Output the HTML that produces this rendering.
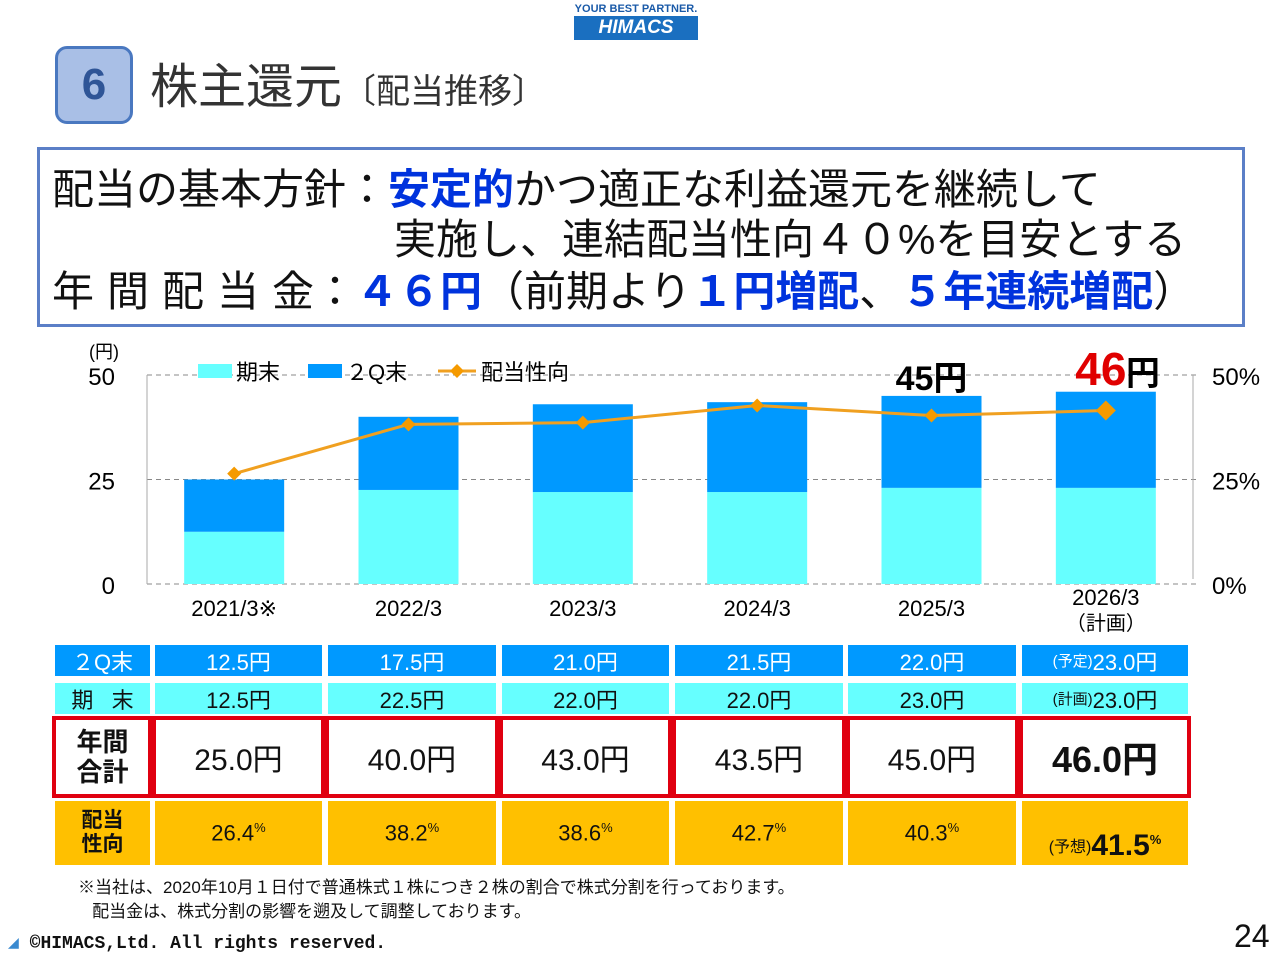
<!DOCTYPE html>
<html><head><meta charset="utf-8">
<style>
body{margin:0;width:1280px;height:960px;background:#fff;position:relative;overflow:hidden;font-family:"Liberation Sans","Noto Sans CJK JP",sans-serif;}
.abs{position:absolute;}
.n{font-family:"Liberation Sans Narrow","Liberation Sans","Noto Sans CJK JP",sans-serif;}
.line{position:absolute;left:52px;font-size:42px;line-height:48px;white-space:nowrap;color:#111;}
.b{color:#0033dd;font-weight:bold;}
.cell{position:absolute;display:flex;align-items:center;justify-content:center;font-size:22px;color:#111;}
</style></head><body>
<div class="abs" style="left:574px;top:2px;width:124px;text-align:center;">
 <div style="font-size:11px;color:#1a5aa8;font-weight:bold;line-height:14px;white-space:nowrap;">YOUR BEST PARTNER.</div>
 <div style="background:#1a6fc0;color:#fff;font-weight:bold;font-style:italic;font-size:19px;line-height:24px;">HIMACS</div>
</div>
<div class="abs" style="left:55px;top:46px;width:78px;height:78px;border:3px solid #4a78c0;border-radius:12px;background:#a9bfe6;box-sizing:border-box;font-size:44px;color:#2f5597;font-weight:bold;text-align:center;line-height:72px;">6</div>
<div class="abs" style="left:150px;top:58px;font-size:48px;color:#333;line-height:60px;">株主還元<span style="font-size:34px;">〔配当推移〕</span></div>

<div class="abs" style="left:37px;top:147px;width:1208px;height:180px;border:3px solid #5b7fc7;box-sizing:border-box;"></div>
<div class="line" style="top:166px;">配当の基本方針：<span class="b">安定的</span>かつ適正な利益還元を継続して</div>
<div class="line" style="top:216px;left:394px;">実施し、連結配当性向４０%を目安とする</div>
<div class="line" style="top:268px;"><span style="letter-spacing:13px;">年間配当</span>金：<span class="b">４６円</span>（前期より<span class="b">１円増配</span>、<span class="b">５年連続増配</span>）</div>

<svg id="chart" class="abs" style="left:0;top:0;" width="1280" height="960"></svg>

<div id="table"></div>

<div class="abs" style="left:78px;top:876px;font-size:17px;line-height:24px;color:#111;">※当社は、2020年10月１日付で普通株式１株につき２株の割合で株式分割を行っております。<br>&nbsp;&nbsp;&nbsp;配当金は、株式分割の影響を遡及して調整しております。</div>
<div class="abs" style="left:8px;top:932px;font-size:18px;font-family:'Liberation Mono',monospace;color:#111;font-weight:bold;"><span style="color:#3a8ad0;">◢</span> ©HIMACS,Ltd. All rights reserved.</div>
<div class="abs n" style="left:1234px;top:918px;font-size:32px;color:#111;">24</div>

<script>
const categories=["2021/3","2022/3","2023/3","2024/3","2025/3","2026/3"];
const q2Values=[12.5,17.5,21.0,21.5,22.0,23.0];
const endValues=[12.5,22.5,22.0,22.0,23.0,23.0];
const payoutRatio=[26.4,38.2,38.6,42.7,40.3,41.5];
const yTicks=[0,25,50];
const y2Ticks=["0%","25%","50%"];
const NS="http://www.w3.org/2000/svg";
const svg=document.getElementById('chart');
const x0=147,x1=1193,y0=584,yTop=375;
const yS=v=>y0-(v/50)*(y0-yTop);
const yP=v=>y0-(v/50)*(y0-yTop);
const step=(x1-x0)/categories.length;
const xC=i=>x0+step*(i+0.5);
function mk(t,a,txt){const e=document.createElementNS(NS,t);for(const k in a)e.setAttribute(k,a[k]);if(txt!==undefined)e.textContent=txt;svg.appendChild(e);return e;}
yTicks.forEach((t,i)=>{
 const gl=mk('line',{x1:x0,x2:x1+5,y1:yS(t),y2:yS(t),stroke:'#888','stroke-dasharray':'5,4','stroke-width':1});
 
 const l=mk('text',{x:115,y:yS(t)+10,'text-anchor':'end','font-size':24,'font-family':'Liberation Sans Narrow, Liberation Sans, sans-serif'},t);
 
 const r=mk('text',{x:1212,y:yS(t)+10,'font-size':24,'font-family':'Liberation Sans Narrow, Liberation Sans, sans-serif'},y2Ticks[i]);
 
});
const ax=mk('line',{x1:x0,x2:x0,y1:yTop,y2:y0,stroke:'#aaa'});
const ax2=mk('line',{x1:x1,x2:x1,y1:yTop,y2:y0-5,stroke:'#aaa'});
const yt=mk('text',{x:104,y:358,'text-anchor':'middle','font-size':18},'(円)');
const bw=100;
categories.forEach((c,i)=>{
 const x=xC(i)-bw/2;
 const b1=mk('rect',{x:x,y:yS(endValues[i]),width:bw,height:y0-yS(endValues[i]),fill:'#66ffff'});
 
 const tot=endValues[i]+q2Values[i];
 const b2=mk('rect',{x:x,y:yS(tot),width:bw,height:yS(endValues[i])-yS(tot),fill:'#0099ff'});
 
 const lab=mk('text',{x:xC(i),y:616,'text-anchor':'middle','font-size':22,'font-family':'Liberation Sans Narrow, Liberation Sans, sans-serif'},i==5?c:c+(i==0?'※':''));
 if(i==5)lab.setAttribute('y',605);
 
 if(i==5){const s=mk('text',{x:xC(i),y:630,'text-anchor':'middle','font-size':20},'（計画）');}
});
let pts=payoutRatio.map((v,i)=>xC(i)+','+yP(v)).join(' ');
const pl=mk('polyline',{points:pts,fill:'none',stroke:'#f0a020','stroke-width':3});

payoutRatio.forEach((v,i)=>{const s=i==5?10:7;const d=mk('polygon',{points:`${xC(i)},${yP(v)-s} ${xC(i)+s},${yP(v)} ${xC(i)},${yP(v)+s} ${xC(i)-s},${yP(v)}`,fill:'#f59a00'});
 });
const t45=mk('text',{x:xC(4),y:390,'text-anchor':'middle','font-size':34,'font-weight':'bold','font-family':'Liberation Sans Narrow, Liberation Sans, Noto Sans CJK JP, sans-serif'},'45円');

const t46=mk('text',{x:xC(5)-5,y:385,'text-anchor':'middle','font-size':46,'font-weight':'bold','font-family':'Liberation Sans Narrow, Liberation Sans, Noto Sans CJK JP, sans-serif',fill:'#e00000'},'46');

const t46b=mk('text',{x:xC(5)+20,y:385,'font-size':34,'font-weight':'bold'},'円');
[['#66ffff','期末',198],['#0099ff','２Q末',308]].forEach(l=>{const r=mk('rect',{x:l[2],y:364,width:34,height:14,fill:l[0]});
 const t=mk('text',{x:l[2]+38,y:380,'font-size':22},l[1]);});
const ll=mk('line',{x1:438,x2:476,y1:371,y2:371,stroke:'#f0a020','stroke-width':3});
const ld=mk('polygon',{points:'457,364 464,371 457,378 450,371',fill:'#f59a00'});
const lt=mk('text',{x:481,y:380,'font-size':22},'配当性向');

const tb=document.getElementById('table');
const cols=[[155,322],[328,496],[502,669],[675,843],[848,1016],[1022,1188]];
function cell(x,y,w,h,bg,html,name,style){const d=document.createElement('div');d.className='cell n';d.style.cssText=`left:${x}px;top:${y}px;width:${w}px;height:${h}px;background:${bg};${style||''}`;d.innerHTML=html;
 tb.appendChild(d);}
cell(55,645,95,31,'#0099ff','２Q末','row-label-q2','color:#fff;');
cell(55,683,95,31,'#66ffff','期&nbsp;&nbsp;&nbsp;末','row-label-end');
cell(55,718,95,78,'#fff','年間<br>合計','row-label-total','font-size:26px;font-weight:bold;line-height:30px;text-align:center;');
cell(55,801,95,64,'#ffc000','配当<br>性向','row-label-payout','font-size:21px;font-weight:bold;line-height:24px;text-align:center;');
cols.forEach((c,i)=>{const w=c[1]-c[0];const tot=(q2Values[i]+endValues[i]).toFixed(1);
 cell(c[0],645,w,31,'#0099ff',(i==5?'<span style="font-size:15px">(予定) </span>':'')+q2Values[i].toFixed(1)+'円','cell-q2','color:#fff;');
 cell(c[0],683,w,31,'#66ffff',(i==5?'<span style="font-size:15px">(計画) </span>':'')+endValues[i].toFixed(1)+'円','cell-end');
 cell(c[0],718,w,78,'#fff',tot+'円','cell-total','font-size:'+(i==5?36:30)+'px;'+(i==5?'font-weight:bold;':''));
 cell(c[0],801,w,64,'#ffc000',(i==5?'<span style="font-size:16px;align-self:flex-end;margin-bottom:8px">(予想) </span><span style="font-size:30px;font-weight:bold;align-self:flex-end;margin-bottom:2px">':'<span>')+payoutRatio[i].toFixed(1)+'<sup style="font-size:13px">%</sup></span>','cell-payout');
});
const rb=[[52,152],[152,325],[325,499],[499,672],[672,846],[846,1019],[1019,1191]];
rb.forEach(r=>{const d=document.createElement('div');d.style.cssText=`position:absolute;left:${r[0]}px;top:716px;width:${r[1]-r[0]+ (r[0]==52?0:0)}px;height:82px;border:4px solid #e00010;box-sizing:border-box;`;
 tb.appendChild(d);});
</script>
</body></html>
